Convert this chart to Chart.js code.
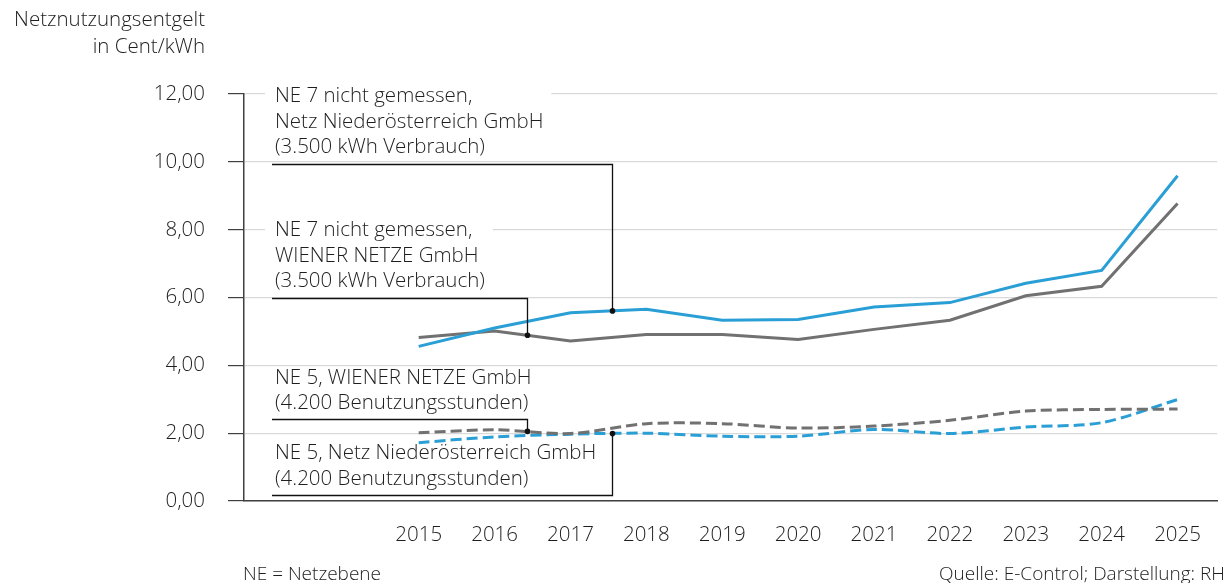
<!DOCTYPE html>
<html>
<head>
<meta charset="utf-8">
<script src="https://cdn.jsdelivr.net/npm/chart.js@4.4.1/dist/chart.umd.min.js"></script>
<style>
  html, body { margin: 0; padding: 0; background: #fff; }
  #wrap { width: 1223px; height: 583px; position: relative; }
</style>
</head>
<body>
<div id="wrap"><canvas id="netzChart"></canvas></div>
<script>
const years = [2015, 2016, 2017, 2018, 2019, 2020, 2021, 2022, 2023, 2024, 2025];
const ne7Noe = [4.56, 5.10, 5.55, 5.65, 5.33, 5.35, 5.72, 5.85, 6.42, 6.80, 9.59];
const ne7Wien = [4.82, 5.01, 4.72, 4.91, 4.91, 4.76, 5.06, 5.33, 6.05, 6.33, 8.77];
const ne5Wien = [2.01, 2.10, 1.99, 2.28, 2.28, 2.15, 2.21, 2.38, 2.65, 2.70, 2.71];
const ne5Noe = [1.72, 1.89, 1.97, 2.00, 1.91, 1.91, 2.11, 1.99, 2.18, 2.31, 2.99];
const yTicks = [0, 2, 4, 6, 8, 10, 12];

const yTitle = ["Netznutzungsentgelt", "in Cent/kWh"];
const footLeft = "NE = Netzebene";
const footRight = "Quelle: E-Control; Darstellung: RH";

const color = {
  blue: "#2a9fd6",
  gray: "#717171",
  text: "#1e1e1e",
  axis: "#404040",
  grid: "#d9d9d9"
};
const font = '"Open Sans", sans-serif';
const fontSize = 20.5;

// label boxes with leader lines; base = value of the underline on the y scale
const notes = [
  { lines: ["NE 7 nicht gemessen,", "Netz Niederösterreich GmbH", "(3.500 kWh Verbrauch)"], data: ne7Noe, at: 2017.55, base: 9.95 },
  { lines: ["NE 7 nicht gemessen,", "WIENER NETZE GmbH", "(3.500 kWh Verbrauch)"], data: ne7Wien, at: 2016.43, base: 6.0 },
  { lines: ["NE 5, WIENER NETZE GmbH", "(4.200 Benutzungsstunden)"], data: ne5Wien, at: 2016.43, base: 2.41 },
  { lines: ["NE 5, Netz Niederösterreich GmbH", "(4.200 Benutzungsstunden)"], data: ne5Noe, at: 2017.55, base: 0.18 }
];

/**
 * linear value of a series between two years
 */
function valueAt(data, year) {
  const i = Math.floor(year - years[0]);
  const f = year - years[0] - i;
  return data[i] + (data[i + 1] - data[i]) * f;
}

function points(data) {
  return data.map((v, i) => ({ x: years[i], y: v }));
}

const notePlugin = {
  id: "notes",
  beforeDatasetsDraw(chart) {
    const { ctx, chartArea, scales } = chart;
    ctx.save();
    ctx.font = "300 " + fontSize + "px " + font;
    ctx.textBaseline = "middle";
    notes.forEach(n => {
      const base = scales.y.getPixelForValue(n.base);
      const left = chartArea.left + 31;
      const w = Math.max(...n.lines.map(l => ctx.measureText(l).width));
      const firstMid = base - 16 - 25.5 * (n.lines.length - 1);
      ctx.fillStyle = "#fff";
      ctx.fillRect(left - 10, firstMid - 10, w + 18, base - firstMid + 6);
      ctx.fillStyle = color.text;
      n.lines.forEach((l, k) => ctx.fillText(l, left, firstMid + 25.5 * k));
    });
    ctx.restore();
  },
  afterDatasetsDraw(chart) {
    const { ctx, chartArea, scales } = chart;
    ctx.save();
    ctx.strokeStyle = "#111";
    ctx.fillStyle = "#111";
    ctx.lineWidth = 1.3;
    notes.forEach(n => {
      const base = Math.round(scales.y.getPixelForValue(n.base)) + 0.5;
      const ax = Math.round(scales.x.getPixelForValue(n.at)) + 0.5;
      const ay = scales.y.getPixelForValue(valueAt(n.data, n.at));
      ctx.beginPath();
      ctx.moveTo(chartArea.left + 28, base);
      ctx.lineTo(ax, base);
      ctx.lineTo(ax, ay);
      ctx.stroke();
      ctx.beginPath();
      ctx.arc(ax, ay, 2.8, 0, Math.PI * 2);
      ctx.fill();
    });
    ctx.restore();
  },
  afterDraw(chart) {
    const { ctx, chartArea } = chart;
    ctx.save();
    ctx.font = "300 " + fontSize + "px " + font;
    ctx.fillStyle = color.text;
    ctx.textBaseline = "middle";
    ctx.textAlign = "right";
    ctx.fillText(yTitle[0], 205, 20);
    ctx.fillText(yTitle[1], 205, 47);
    ctx.font = "300 19px " + font;
    ctx.fillText(footRight, chart.width + 2, 575);
    ctx.textAlign = "left";
    ctx.fillText(footLeft, chartArea.left - 1, 575);
    ctx.restore();
  }
};

new Chart(document.getElementById("netzChart"), {
  type: "line",
  data: {
    datasets: [
      { label: "NE 7 nicht gemessen, Netz Niederösterreich GmbH", data: points(ne7Noe), borderColor: color.blue, borderWidth: 3, tension: 0 },
      { label: "NE 7 nicht gemessen, WIENER NETZE GmbH", data: points(ne7Wien), borderColor: color.gray, borderWidth: 3, tension: 0 },
      { label: "NE 5, WIENER NETZE GmbH", data: points(ne5Wien), borderColor: color.gray, borderWidth: 3, borderDash: [11, 5], tension: 0.3 },
      { label: "NE 5, Netz Niederösterreich GmbH", data: points(ne5Noe), borderColor: color.blue, borderWidth: 3, borderDash: [11, 5], tension: 0.3 }
    ]
  },
  options: {
    responsive: true,
    maintainAspectRatio: false,
    animation: false,
    events: [],
    elements: { point: { radius: 0 }, line: { borderCapStyle: "butt", fill: false } },
    layout: { padding: { top: 94, right: 1, left: 0, bottom: 0 } },
    plugins: { legend: { display: false }, tooltip: { enabled: false }, title: { display: false } },
    scales: {
      x: {
        type: "linear",
        min: 2012.698,
        max: 2025.524,
        afterBuildTicks: s => { s.ticks = years.map(v => ({ value: v })); },
        afterFit: s => { s.height = 82; },
        grid: { display: false, drawTicks: false },
        border: { display: true, color: color.axis, width: 1.5 },
        ticks: { color: color.text, font: { family: font, size: fontSize, weight: 300 }, padding: 22, maxRotation: 0, callback: v => String(v) }
      },
      y: {
        min: 0,
        max: 12,
        afterBuildTicks: s => { s.ticks = yTicks.map(v => ({ value: v })); },
        afterFit: s => { s.width = 244; },
        grid: { color: color.grid, lineWidth: 1.2, tickColor: color.axis, tickLength: 16, drawTicks: true },
        border: { display: true, color: color.axis, width: 1.5 },
        ticks: { color: color.text, font: { family: font, size: fontSize, weight: 300 }, padding: 23, callback: v => v.toFixed(2).replace(".", ",") }
      }
    }
  },
  plugins: [notePlugin]
});
</script>
</body>
</html>
